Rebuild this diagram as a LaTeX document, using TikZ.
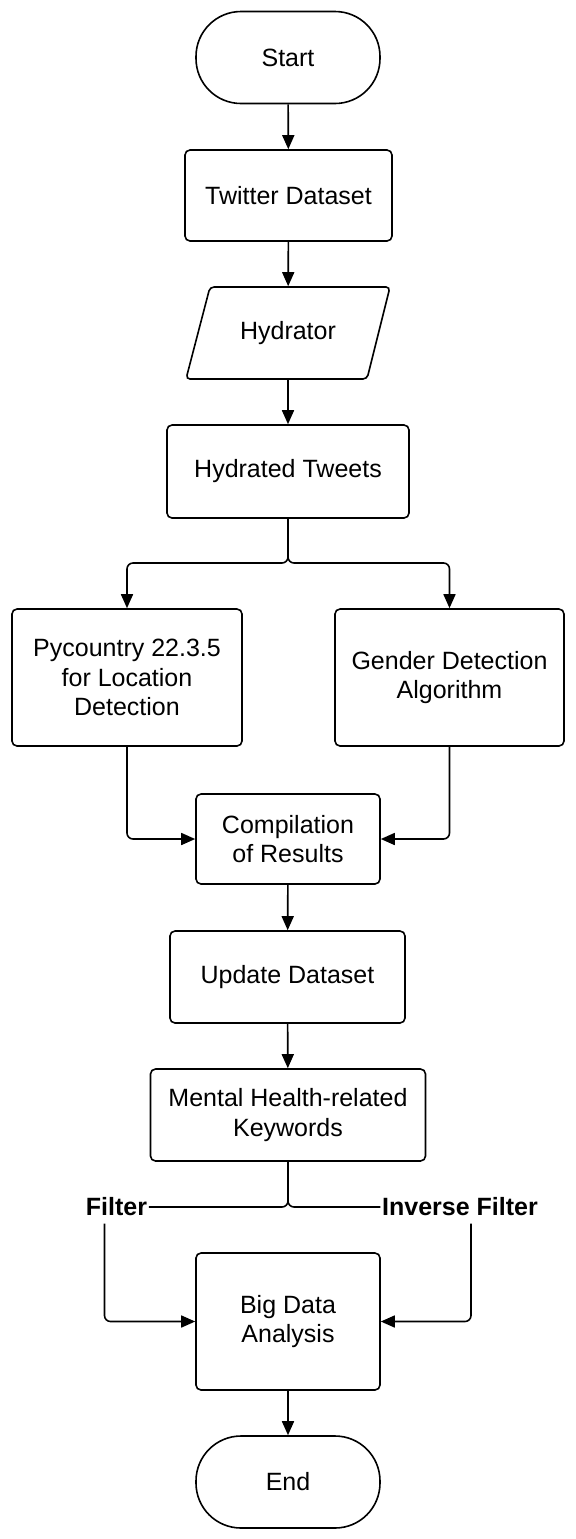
\documentclass[tikz,border=0pt]{standalone}
\usepackage{fontspec}
\setmainfont{Liberation Sans}
\usetikzlibrary{arrows.meta}
\begin{document}
\begin{tikzpicture}[x=0.5pt,y=-0.5pt,
    font=\fontsize{12.5}{14.75}\selectfont,
    line width=0.8pt,
    box/.style={draw, rectangle, rounded corners=2.5pt, align=center},
    terminal/.style={draw, rectangle, rounded corners=22.5pt, minimum width=92pt, minimum height=46pt},
    flow/.style={-{Triangle[length=7pt,width=6pt]}},
    label/.style={font=\fontsize{12.5}{14.75}\selectfont\bfseries, inner xsep=0.5pt}]
    \useasboundingbox (0,0) rectangle (576,1539);

    \node[terminal] (start) at (288,57.5) {Start};
    \node[box, minimum width=103.5pt, minimum height=45.5pt] (twitter) at (288.5,195.5) {Twitter Dataset};
    \node[minimum width=102pt, minimum height=46pt] (hydrator) at (288,333) {Hydrator};
    \draw[rounded corners=2pt] (210,287) -- (390,287) -- (367,379) -- (186,379) -- cycle;
    \node[box, minimum width=121pt, minimum height=46.5pt] (hydrated) at (288,471.5) {Hydrated Tweets};
    \node[box, minimum width=115pt, minimum height=68.5pt] (pycountry) at (127,677.5) {Pycountry 22.3.5\\for Location\\Detection};
    \node[box, minimum width=114.5pt, minimum height=68.5pt] (gender) at (449.5,677.5) {Gender Detection\\Algorithm};
    \node[box, minimum width=92pt, minimum height=45pt] (compile) at (288,839) {Compilation\\of Results};
    \node[box, minimum width=117.5pt, minimum height=46pt] (update) at (287.5,977) {Update Dataset};
    \node[box, minimum width=137.5pt, minimum height=46pt] (keywords) at (288,1115) {Mental Health-related\\Keywords};
    \node[label] (filter) at (116.5,1207) {Filter};
    \node[label] (inverse) at (460,1207) {Inverse Filter};
    \node[box, minimum width=92pt, minimum height=68.5pt] (bigdata) at (288,1321.5) {Big Data\\Analysis};
    \node[terminal] (end) at (288,1482) {End};

    \coordinate (split) at (288,563);
    \coordinate (join) at (288,1207);

    \draw[flow] (start) -- (twitter);
    \draw[flow] (twitter) -- (hydrator);
    \draw[flow] (hydrator) -- (hydrated);
    \draw[flow, rounded corners=3pt] (hydrated.south) -- (split) -| (pycountry.north);
    \draw[flow, rounded corners=3pt] (hydrated.south) -- (split) -| (gender.north);
    \draw[flow, rounded corners=3pt] (pycountry.south) |- (compile.west);
    \draw[flow, rounded corners=3pt] (gender.south) |- (compile.east);
    \draw[flow] (compile) -- (update);
    \draw[flow] (update) -- (keywords);

    \draw[rounded corners=3pt] (keywords.south) -- (join) -- (filter.east);
    \draw[rounded corners=3pt] (keywords.south) -- (join) -- (inverse.west);
    \draw[flow, rounded corners=3pt] ([xshift=-6pt]filter.south) |- (bigdata.west);
    \draw[flow, rounded corners=3pt] ([xshift=5.5pt]inverse.south) |- (bigdata.east);
    \draw[flow] (bigdata) -- (end);
\end{tikzpicture}
\end{document}
